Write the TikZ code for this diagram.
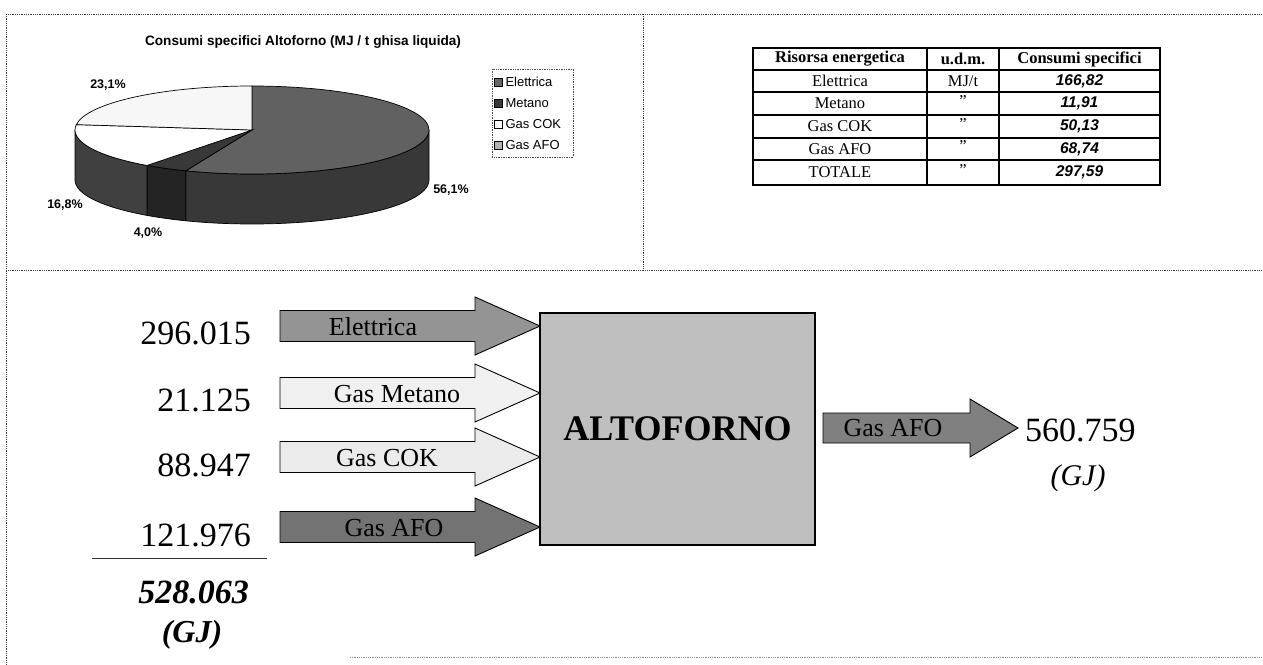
\documentclass[tikz,border=0pt]{standalone}
\usepackage{fontspec}
\setmainfont{Liberation Serif}
\newfontfamily\chartfont{Liberation Sans}
\usetikzlibrary{calc}
\newcommand{\blockarrow}[6]{% start x, base x, tip x, y centre, shaft half, style
  \path[#6] (#1,{#4-#5}) -- (#2,{#4-#5}) -- (#2,{#4-29}) -- (#3,#4) -- (#2,{#4+29}) -- (#2,{#4+#5}) -- (#1,{#4+#5}) -- cycle;}
\begin{document}
\begin{tikzpicture}[x=1pt,y=-1pt,
  frame/.style={line width=0.8pt, densely dotted, black!75},
  arrowbody/.style={draw=black, line width=0.9pt},
  num/.style={anchor=east, inner sep=0pt, font=\fontsize{34}{40}\selectfont},
  albl/.style={inner sep=0pt, font=\fontsize{26}{30}\selectfont},
  tcell/.style={inner sep=0pt, font=\fontsize{16.5}{18}\selectfont},
  thead/.style={inner sep=0pt, font=\fontsize{16.5}{18}\selectfont\bfseries},
  tval/.style={inner sep=0pt, font=\chartfont\fontsize{15.5}{18}\selectfont\bfseries\itshape},
  pct/.style={inner sep=0pt, font=\chartfont\fontsize{12.5}{14}\selectfont\bfseries},
  leg/.style={anchor=west, inner sep=0pt, font=\chartfont\fontsize{13}{15}\selectfont},
  legbox/.style={draw=black, line width=0.6pt, minimum size=8pt, inner sep=0pt},
  pieedge/.style={draw=black, line width=0.7pt}
]
\useasboundingbox (0,0) rectangle (1263,664);
\fill[white] (0,0) rectangle (1263,664);

% ---------- frame ----------
\draw[frame] (8,14) -- (1263,14);
\draw[frame] (6,14) -- (6,664);
\draw[frame] (8,270) -- (1263,270);
\draw[frame] (643,14) -- (643,270);
\draw[frame, black!45] (350,657) -- (1263,657);

% ---------- pie chart ----------
\node[inner sep=0pt, font=\chartfont\fontsize{13.6}{15}\selectfont\bfseries] (ptitle) at (303,42)
  {Consumi specifici Altoforno (MJ / t ghisa liquida)};
\coordinate (pc) at (252,130);
% sides (front half: angles 0..180)
\filldraw[pieedge, fill=black!78]
  ($(pc)+(0:177 and 44)$) arc[start angle=0, end angle=111.96, x radius=177, y radius=44]
  -- ++(0,50) arc[start angle=111.96, end angle=0, x radius=177, y radius=44] -- cycle;
\filldraw[pieedge, fill=black!86]
  ($(pc)+(111.96:177 and 44)$) arc[start angle=111.96, end angle=126.36, x radius=177, y radius=44]
  -- ++(0,50) arc[start angle=126.36, end angle=111.96, x radius=177, y radius=44] -- cycle;
\filldraw[pieedge, fill=black!75]
  ($(pc)+(126.36:177 and 44)$) arc[start angle=126.36, end angle=180, x radius=177, y radius=44]
  -- ++(0,50) arc[start angle=180, end angle=126.36, x radius=177, y radius=44] -- cycle;
% tops
\filldraw[pieedge, fill=black!62]
  (pc) -- ($(pc)+(-90:177 and 44)$) arc[start angle=-90, end angle=111.96, x radius=177, y radius=44] -- cycle;
\filldraw[pieedge, fill=black!78]
  (pc) -- ($(pc)+(111.96:177 and 44)$) arc[start angle=111.96, end angle=126.36, x radius=177, y radius=44] -- cycle;
\filldraw[pieedge, fill=white]
  (pc) -- ($(pc)+(126.36:177 and 44)$) arc[start angle=126.36, end angle=187, x radius=177, y radius=44] -- cycle;
\filldraw[pieedge, fill=black!3]
  (pc) -- ($(pc)+(187:177 and 44)$) arc[start angle=187, end angle=270, x radius=177, y radius=44] -- cycle;
% percentages
\node[pct] (p1) at (451,190) {56,1\%};
\node[pct] (p2) at (148,233) {4,0\%};
\node[pct] (p3) at (65,205) {16,8\%};
\node[pct] (p4) at (108,85) {23,1\%};
% legend
\draw[black!70, densely dotted, line width=0.7pt] (492,69) rectangle (573,157);
\node[legbox, fill=black!60] (l1) at (498,82) {};
\node[legbox, fill=black!78] (l2) at (498,103) {};
\node[legbox, fill=white]    (l3) at (498,124) {};
\node[legbox, fill=black!30] (l4) at (498,145) {};
\node[leg] (t1) at ($(l1.east)+(3,0)$) {Elettrica};
\node[leg] (t2) at ($(l2.east)+(3,0)$) {Metano};
\node[leg] (t3) at ($(l3.east)+(3,0)$) {Gas COK};
\node[leg] (t4) at ($(l4.east)+(3,0)$) {Gas AFO};

% ---------- table ----------
\begin{scope}[line width=1.3pt]
\draw (753,48) rectangle (1160,185);
\foreach \yy in {70,92,115,138,160} \draw (753,\yy) -- (1160,\yy);
\draw (927,48) -- (927,185);
\draw (999,48) -- (999,185);
\end{scope}
\node[thead] (h1) at (840,59) {Risorsa energetica};
\node[thead] (h2) at (963,59) {u.d.m.};
\node[thead] (h3) at (1079.5,59) {Consumi specifici};
\node[tcell] (r1) at (840,81) {Elettrica};
\node[tcell] (r2) at (840,103.5) {Metano};
\node[tcell] (r3) at (840,126.5) {Gas COK};
\node[tcell] (r4) at (840,149) {Gas AFO};
\node[tcell] (r5) at (840,172.5) {TOTALE};
\node[tcell] (u1) at (963,81) {MJ/t};
\node[tcell] (u2) at (963,101) {"};
\node[tcell] (u3) at (963,124) {"};
\node[tcell] (u4) at (963,146.5) {"};
\node[tcell] (u5) at (963,170) {"};
\node[tval] (v1) at (1079.5,81) {166,82};
\node[tval] (v2) at (1079.5,103.5) {11,91};
\node[tval] (v3) at (1079.5,126.5) {50,13};
\node[tval] (v4) at (1079.5,149) {68,74};
\node[tval] (v5) at (1079.5,172.5) {297,59};

% ---------- flow diagram ----------
\node[draw=black, line width=1.2pt, fill=black!25, minimum width=275pt, minimum height=232pt,
      inner sep=0pt, font=\fontsize{36}{40}\selectfont\bfseries] (box) at (677.5,429) {ALTOFORNO};

\blockarrow{280}{475}{540}{326}{15.5}{arrowbody, fill=black!42}
\blockarrow{280}{475}{540}{393}{15.5}{arrowbody, fill=black!6}
\blockarrow{280}{475}{540}{457}{15.5}{arrowbody, fill=black!8}
\blockarrow{280}{475}{540}{527}{15.5}{arrowbody, fill=black!55}
\blockarrow{823}{970}{1018}{428}{15}{arrowbody, fill=black!50}

\node[albl] (a1) at (373,327) {Elettrica};
\node[albl] (a2) at (397,394) {Gas Metano};
\node[albl] (a3) at (387,458) {Gas COK};
\node[albl] (a4) at (394,528) {Gas AFO};
\node[albl] (a5) at (893,428) {Gas AFO};

\node[num] (n1) at (251,333) {296.015};
\node[num] (n2) at (251,400) {21.125};
\node[num] (n3) at (251,465) {88.947};
\node[num] (n4) at (251,535) {121.976};
\draw[line width=1pt, black!80] (92,558) -- (267,558);
\node[num, font=\fontsize{34}{40}\selectfont\bfseries\itshape] (tot) at (249,592) {528.063};
\node[inner sep=0pt, font=\fontsize{32}{40}\selectfont\bfseries\itshape] (gj1) at (192,635) {(GJ)};

\node[anchor=west, inner sep=0pt, font=\fontsize{34}{40}\selectfont] (out) at (1025,430) {560.759};
\node[inner sep=0pt, font=\fontsize{30}{36}\selectfont\itshape] (gj2) at (1078,478) {(GJ)};
\end{tikzpicture}
\end{document}
